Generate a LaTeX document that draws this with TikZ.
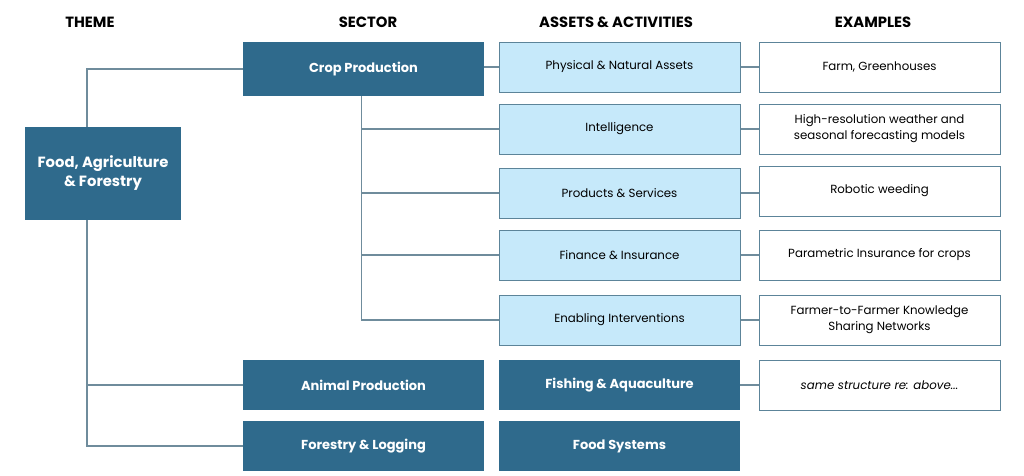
\documentclass[tikz,border=0pt]{standalone}
\usepackage{tikz}
\usetikzlibrary{arrows.meta, positioning}
\usepackage{fontspec}
\setmainfont{Poppins}
\usepackage{xcolor}
\definecolor{darkteal}{HTML}{2F6A8C}
\definecolor{paleblue}{HTML}{C6E9FA}
\definecolor{boxline}{HTML}{5C8499}
\definecolor{linkline}{HTML}{6F8C9C}
\tikzset{%
	every dark box/.style={
		rectangle,
		fill=darkteal,
		draw=none,
		text=white,
		font=\fontsize{13}{16}\selectfont\bfseries,
		minimum width=241pt,
		minimum height=50pt,
		align=center
	},
	every asset box/.style={
		rectangle,
		fill=paleblue,
		draw=boxline,
		line width=1pt,
		font=\fontsize{11.8}{14}\selectfont,
		minimum width=241pt,
		minimum height=50pt,
		align=center
	},
	every example box/.style={
		rectangle,
		fill=white,
		draw=boxline,
		line width=1pt,
		font=\fontsize{11.8}{16}\selectfont,
		minimum width=241pt,
		minimum height=50pt,
		align=center
	},
	heading/.style={
		font=\fontsize{14.8}{17}\selectfont\bfseries
	},
}

\begin{document}
\begin{tikzpicture}[
			x=1pt, y=-1pt,
			link/.style={draw=linkline, line width=1.3pt}
			]
			\useasboundingbox (0,0) rectangle (1024,475);
			
			% Column headings
			\node[heading] (hTheme) at (90,22) {THEME};
			\node[heading] (hSector) at (368,22) {SECTOR};
			\node[heading] (hAssets) at (616,22) {ASSETS \& ACTIVITIES};
			\node[heading] (hExamples) at (873,22) {EXAMPLES};
			
			% Theme and sectors
			\node[every dark box, minimum width=156pt, minimum height=93pt,
				font=\fontsize{14.8}{19}\selectfont\bfseries] (theme) at (103,173.5) {Food, Agriculture\\\& Forestry};
			\node[every dark box, minimum height=54pt] (crop) at (363.5,69) {Crop Production};
			\node[every dark box] (animal) at (363.5,385) {Animal Production};
			\node[every dark box] (forestry) at (363.5,446) {Forestry \& Logging};
			
			% Assets and activities
			\node[every asset box] (phys) at (619.5,67) {Physical \& Natural Assets};
			\node[every asset box] (intel) at (619.5,129) {Intelligence};
			\node[every asset box] (prod) at (619.5,193) {Products \& Services};
			\node[every asset box] (fin) at (619.5,255) {Finance \& Insurance};
			\node[every asset box] (enab) at (619.5,320) {Enabling Interventions};
			\node[every dark box] (fish) at (619.5,385) {Fishing \& Aquaculture};
			\node[every dark box] (foodsys) at (619.5,446) {Food Systems};
			
			% Examples
			\node[every example box] (exPhys) at (879.5,67) {Farm, Greenhouses};
			\node[every example box] (exIntel) at (879.5,129) {High-resolution weather and\\seasonal forecasting models};
			\node[every example box] (exProd) at (879.5,191) {Robotic weeding};
			\node[every example box] (exFin) at (879.5,255) {Parametric Insurance for crops};
			\node[every example box] (exEnab) at (879.5,320) {Farmer-to-Farmer Knowledge\\Sharing Networks};
			\node[every example box, font=\fontsize{11.8}{14}\selectfont\itshape] (exFish) at (879.5,385) {same structure re: above...};
			
			% Connectors
			\coordinate (trunk) at (87,0);
			\draw[link] (theme.north -| trunk) |- (crop.west);
			\draw[link] (theme.south -| trunk) |- (animal.west);
			\draw[link] (theme.south -| trunk) |- (forestry.west);
			\foreach \a in {intel, prod, fin, enab}
				\draw[link] ([xshift=-2pt]crop.south) |- (\a.west);
			\draw[link] (crop.east |- phys.west) -- (phys.west);
			\draw[link] (phys) -- (exPhys);
			\draw[link] (intel) -- (exIntel);
			\draw[link] (prod.east) -- (prod.east -| exProd.west);
			\draw[link] (fin) -- (exFin);
			\draw[link] (enab) -- (exEnab);
			\draw[link] (fish) -- (exFish);
			
		\end{tikzpicture}
\end{document}
